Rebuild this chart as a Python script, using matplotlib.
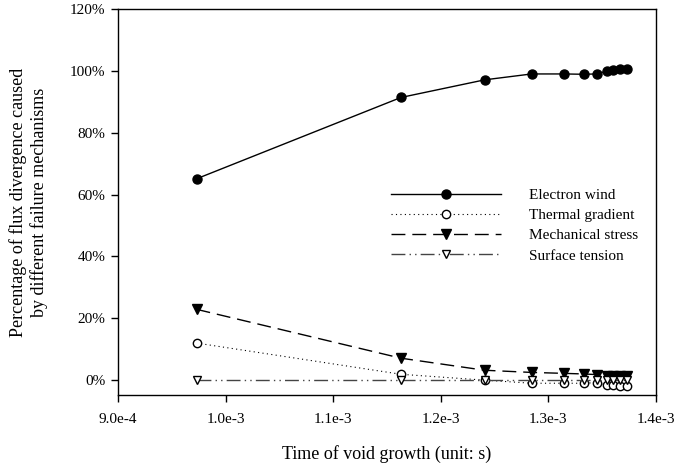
import matplotlib
matplotlib.use("Agg")
import matplotlib.pyplot as plt
from matplotlib.ticker import FuncFormatter, MultipleLocator

plt.rcParams['font.family'] = ['Liberation Serif', 'DejaVu Serif']

time_s = [9.73e-4, 1.163e-3, 1.2408e-3, 1.2844e-3, 1.3141e-3, 1.3327e-3,
          1.3448e-3, 1.354e-3, 1.3605e-3, 1.367e-3, 1.3735e-3]
electron_wind = [65.1, 91.4, 97.1, 99.0, 99.0, 98.9, 99.0, 99.9, 100.3, 100.7, 100.7]
thermal_gradient = [12.0, 1.9, 0.0, -1.0, -1.0, -1.0, -0.8, -1.5, -1.7, -1.8, -1.9]
mechanical_stress = [22.9, 7.1, 3.2, 2.5, 2.2, 2.0, 1.8, 1.5, 1.4, 1.3, 1.2]
surface_tension = [0.0, 0.0, 0.0, 0.0, 0.0, 0.0, 0.0, 0.0, 0.0, 0.0, 0.0]

series_names = ["Electron wind", "Thermal gradient", "Mechanical stress", "Surface tension"]
x_ticks = [9.0e-4, 1.0e-3, 1.1e-3, 1.2e-3, 1.3e-3, 1.4e-3]
x_tick_labels = ["9.0e-4", "1.0e-3", "1.1e-3", "1.2e-3", "1.3e-3", "1.4e-3"]

fig = plt.figure(figsize=(6.76, 4.70), dpi=100)
ax = fig.add_axes([118/676, 1-395/470, (656-118)/676, (395-9)/470])

ax.plot(time_s, [v/100 for v in electron_wind], color='black', lw=1.0,
        marker='o', ms=6.5, mfc='black', mec='black', label=series_names[0])
ax.plot(time_s, [v/100 for v in thermal_gradient], color='black', lw=0.8,
        linestyle=(0, (1, 3)), marker='o', ms=6, mfc='white', mec='black',
        label=series_names[1])
ax.plot(time_s, [v/100 for v in mechanical_stress], color='black', lw=1.0,
        linestyle=(0, (10, 5)), marker='v', ms=6.5, mfc='black', mec='black',
        label=series_names[2])
ax.plot(time_s, [v/100 for v in surface_tension], color='#444444', lw=1.0,
        linestyle=(0, (10, 3, 1, 3, 1, 3)), marker='v', ms=6, mfc='white',
        mec='black', label=series_names[3])

ax.set_xlim(9.0e-4, 1.4e-3)
ax.set_ylim(-0.048, 1.2)
ax.set_xticks(x_ticks)
ax.set_xticklabels(x_tick_labels)
ax.yaxis.set_major_locator(MultipleLocator(0.2))
ax.yaxis.set_major_formatter(FuncFormatter(lambda v, p: f"{round(v*100):d}%"))
ax.tick_params(axis='both', direction='out', length=5, width=1, labelsize=11,
               top=False, right=False)
ax.tick_params(axis='x', pad=8)
ax.tick_params(axis='y', pad=4)
for s in ax.spines.values():
    s.set_linewidth(1.0)

ax.set_xlabel("Time of void growth (unit: s)", fontsize=13, labelpad=14)
ax.set_ylabel("Percentage of flux divergence caused\nby different failure mechanisms",
              fontsize=13, labelpad=16)

leg = ax.legend(loc='upper left', bbox_to_anchor=(0.508, 0.535), frameon=False,
                fontsize=11, handlelength=7.2, handletextpad=1.8,
                labelspacing=0.42, borderpad=0, borderaxespad=0, numpoints=1)

fig.savefig("out.png", dpi=100)
